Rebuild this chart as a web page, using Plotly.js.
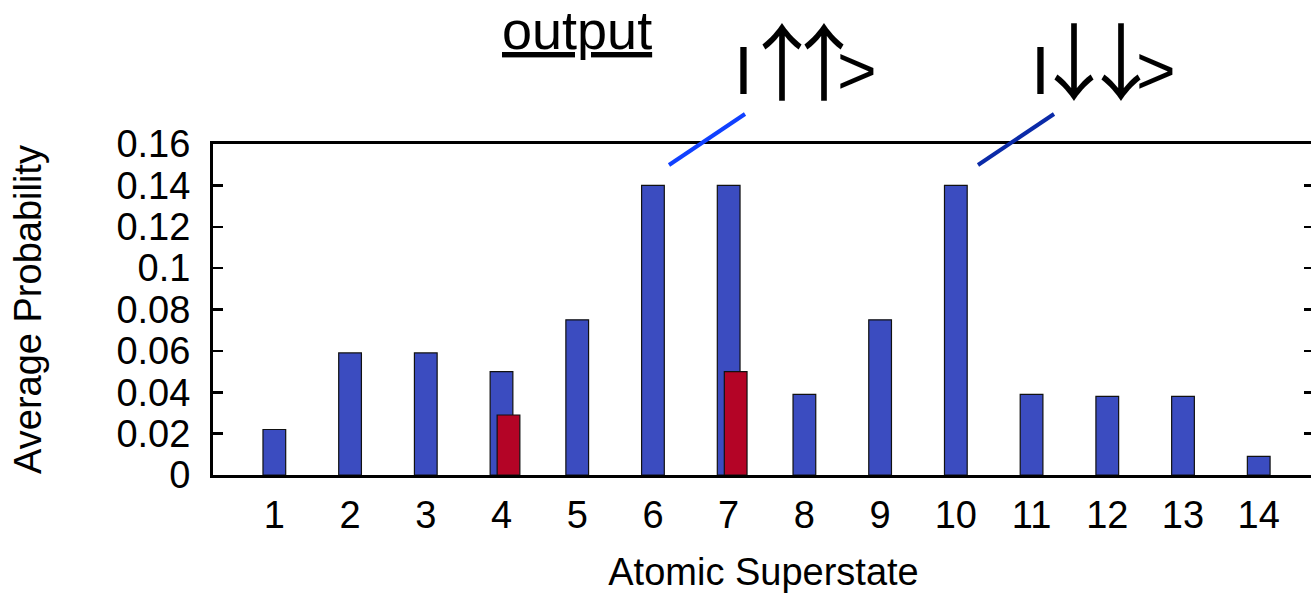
<!DOCTYPE html>
<html>
<head>
<meta charset="utf-8">
<script src="https://cdn.plot.ly/plotly-3.0.1.min.js"></script>
<style>
html,body{margin:0;padding:0;overflow:hidden;background:#fff;}
#chart{width:1314px;height:593px;}
</style>
</head>
<body>
<div id="chart"></div>
<script>
const categories = [1,2,3,4,5,6,7,8,9,10,11,12,13,14];
const blueValues = [0.022,0.059,0.059,0.050,0.075,0.140,0.140,0.039,0.075,0.140,0.039,0.038,0.038,0.009];
const redValues  = [null,null,null,0.029,null,null,0.050,null,null,null,null,null,null,null];
const yTicks = [0,0.02,0.04,0.06,0.08,0.1,0.12,0.14,0.16];
const yTickLabels = ['0','0.02','0.04','0.06','0.08','0.1','0.12','0.14','0.16'];
const xTickLabels = categories.map(String);

const FONT = 'Liberation Sans, Arial, Helvetica, sans-serif';
const ARROWFONT = 'Noto Sans CJK JP';
const L = 213, T = 144, B = 475, W = 1314;
const pw = W - L, ph = B - T;
const px = x => (x - L) / pw;
const py = y => (B - y) / ph;

const traces = [
  {type:'bar', x:categories, y:blueValues, width:0.3, offset:-0.15,
   marker:{color:'#3b4cc0', line:{color:'#111', width:1.2}}, hoverinfo:'x+y', showlegend:false},
  {type:'bar', x:categories, y:redValues, width:0.3, offset:-0.0575,
   marker:{color:'#b40426', line:{color:'#111', width:1.2}}, hoverinfo:'x+y', showlegend:false}
];

function ket(arrow, lsI, ls1, ls2) {
  const a = (ls) => '<span style="font-family:' + ARROWFONT + ';font-size:84px;letter-spacing:' + ls + 'px">' + arrow + '</span>';
  return '<span style="letter-spacing:' + lsI + 'px">I</span>' + a(ls1) + a(ls2) + '>';
}

const layout = {
  width: W, height: 593,
  margin:{l:L, r:0, t:T, b:593-B, pad:0},
  paper_bgcolor:'#fff', plot_bgcolor:'#fff',
  barmode:'overlay',
  font:{family:FONT, color:'#000', size:38},
  xaxis:{range:[0.19,14.73], tickmode:'array', tickvals:categories, ticktext:xTickLabels,
    ticks:'', showline:true, linewidth:3, linecolor:'#000', mirror:true, showgrid:false, zeroline:false,
    tickfont:{size:38, family:FONT}, ticklabelstandoff:4,
    title:{text:'Atomic Superstate', font:{size:38, family:FONT}, standoff:26}},
  yaxis:{range:[0,0.16], tickmode:'array', tickvals:yTicks, ticktext:yTickLabels,
    ticks:'inside', ticklen:10, tickwidth:2.5, tickcolor:'#000',
    showline:true, linewidth:3, linecolor:'#000', mirror:'ticks', showgrid:false, zeroline:false,
    tickfont:{size:38, family:FONT}, ticklabelstandoff:12,
    title:{text:'Average Probability', font:{size:38, family:FONT}, standoff:64}},
  shapes:[
    {type:'line', xref:'paper', yref:'paper', x0:px(669), y0:py(165), x1:px(745), y1:py(114),
     line:{color:'#1040ff', width:4}},
    {type:'line', xref:'paper', yref:'paper', x0:px(978), y0:py(165), x1:px(1054), y1:py(114),
     line:{color:'#0a2aa8', width:4}}
  ],
  annotations:[
    {xref:'paper', yref:'paper', x:px(577), y:py(30), xanchor:'center', yanchor:'middle', showarrow:false,
     text:'<u>output</u>', font:{size:54, family:FONT, color:'#000'}},
    {xref:'paper', yref:'paper', x:px(732), y:py(57), xanchor:'left', yanchor:'middle', showarrow:false,
     width:190, height:110, align:'left', valign:'middle',
     text:ket('↑', -13, -42, -29), font:{size:68, family:FONT, color:'#000'}},
    {xref:'paper', yref:'paper', x:px(1029), y:py(57), xanchor:'left', yanchor:'middle', showarrow:false,
     width:190, height:110, align:'left', valign:'middle',
     text:ket('↓', -18, -37, -27), font:{size:68, family:FONT, color:'#000'}}
  ]
};

Plotly.newPlot('chart', traces, layout, {displayModeBar:false, staticPlot:true});
</script>
</body>
</html>
